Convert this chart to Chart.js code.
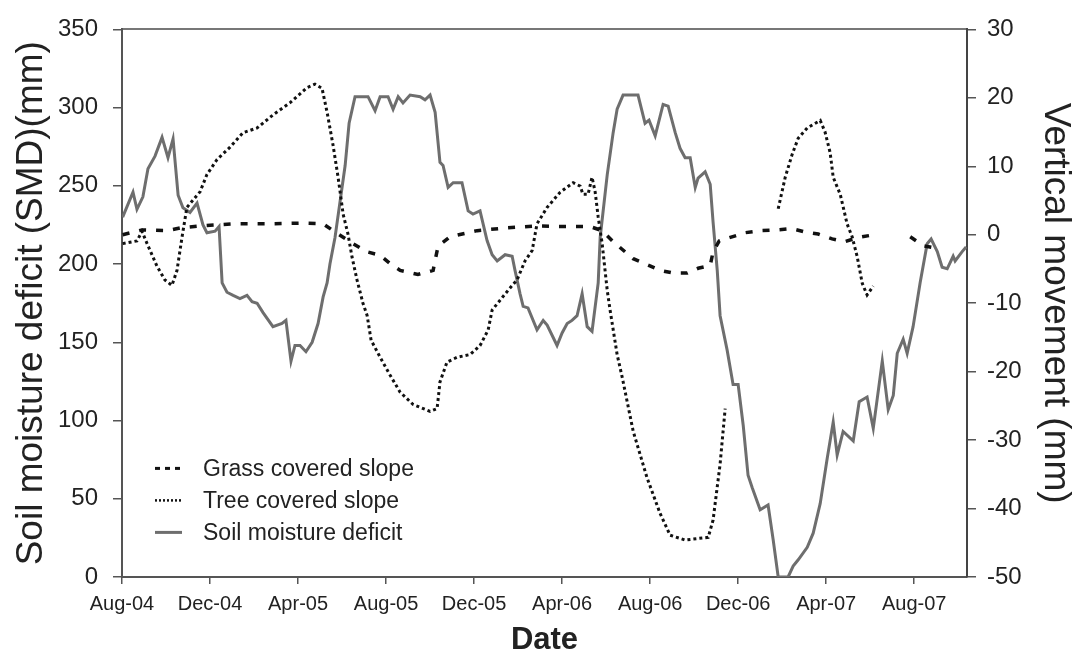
<!DOCTYPE html>
<html lang="en">
  <head>
    <meta charset="UTF-8" />
    <title>Soil moisture deficit and vertical movement</title>
    <script src="https://cdn.jsdelivr.net/npm/chart.js"></script>
    <style>
      html, body { margin: 0; padding: 0; background: #fff; }
    </style>
  </head>
  <body>
    <canvas id="lineChart" width="1074" height="657"></canvas>
    <script>
      // x values are months counted from Aug-04
      const tickLabels = ["Aug-04", "Dec-04", "Apr-05", "Aug-05", "Dec-05",
        "Apr-06", "Aug-06", "Dec-06", "Apr-07", "Aug-07"];

      const smdMonths = [0.03, 0.5, 0.68, 0.95, 1.18, 1.5, 1.82, 2.09, 2.32, 2.55, 2.77, 3.09, 3.41, 3.68, 3.86,
        4.23, 4.41, 4.55, 4.77, 5.05, 5.36, 5.68, 5.91, 6.14, 6.41, 6.86, 7.27, 7.45, 7.68, 7.86, 8.09, 8.36,
        8.64, 8.91, 9.14, 9.32, 9.45, 9.68, 9.91, 10.14, 10.32, 10.59, 11.18, 11.5, 11.73, 12.09, 12.32, 12.55,
        12.77, 13.09, 13.55, 13.77, 14.0, 14.23, 14.45, 14.59, 14.82, 15.05, 15.45, 15.73, 15.95, 16.27, 16.59,
        16.82, 17.05, 17.41, 17.73, 17.86, 18.09, 18.23, 18.45, 18.86, 19.14, 19.32, 19.77, 20.0, 20.23, 20.45,
        20.68, 20.91, 21.14, 21.36, 21.64, 21.73, 22.05, 22.32, 22.5, 22.77, 23.45, 23.77, 23.95, 24.23, 24.59,
        24.82, 25.14, 25.36, 25.59, 25.82, 26.05, 26.18, 26.5, 26.73, 26.86, 27.05, 27.18, 27.5, 27.77, 28.0,
        28.23, 28.45, 28.64, 29.0, 29.36, 29.59, 29.82, 30.27, 30.5, 30.73, 31.14, 31.41, 31.73, 32.05, 32.32,
        32.5, 32.77, 33.23, 33.5, 33.86, 34.14, 34.55, 34.82, 35.05, 35.23, 35.5, 35.68, 35.95, 36.27, 36.59,
        36.77, 37.05, 37.27, 37.5, 37.77, 37.86, 38.18, 38.36];
      const smdValues = [230, 246, 235, 243, 261, 269, 281, 268, 280, 244, 236, 233, 239, 225, 220,
        221, 224, 188, 182, 180, 178, 180, 176, 175, 169, 160, 162, 164, 138, 148, 148, 144,
        150, 162, 179, 188, 200, 217, 240, 263, 290, 307, 307, 298, 307, 307, 299, 307,
        303, 308, 307, 305, 308, 297, 265, 263, 249, 252, 252, 234, 232, 234, 215,
        206, 202, 206, 205, 196, 181, 173, 172, 158, 164, 161, 148, 156, 162, 164,
        167, 181, 160, 157, 188, 217, 257, 284, 299, 308, 308, 290, 292, 282, 302,
        301, 284, 274, 268, 268, 249, 255, 259, 251, 227, 196, 167, 145, 123, 123,
        97, 65, 57, 43, 46, 24, 0, 0, 7, 11, 19, 28, 47, 76, 99,
        78, 93, 87, 112, 115, 95, 138, 107, 116, 143, 152, 143, 160, 188, 213,
        216, 208, 198, 197, 205, 202, 208, 211];

      const grassMonths = [0.03, 0.91, 2.05, 2.64, 3.55, 5.05, 6.59, 8.09, 9.14, 9.59, 10.5, 11.14, 11.73,
        12.18, 12.64, 13.45, 14.14, 14.36, 14.9, 16.14, 17.5, 18.86, 20.05, 21.27, 21.82, 22.32, 23.23, 24.45,
        25.05, 25.68, 26.18, 26.73, 26.86, 27.14, 28.32, 29.0, 29.77, 30.45, 31.05, 31.64, 32.27, 32.86, 33.45,
        34.0, 35.0, 35.82, 36.41, 37.05];
      const grassValues = [0, 0.7, 0.6, 1, 1.3, 1.6, 1.6, 1.7, 1.6, 0.6, -1.3, -2.5, -3,
        -4.2, -5.2, -5.8, -5.2, -1.7, -0.3, 0.6, 1, 1.3, 1.2, 1.2, 0.6, -1, -3.5, -5.2,
        -5.6, -5.6, -4.9, -4.5, -2.5, -0.9, 0.3, 0.6, 0.7, 0.9, 0.4, 0.1, -0.6, -1, -0.4,
        -0.1, null, -0.3, -1.6, -2];

      const treeMonths = [0.03, 0.68, 0.91, 1.14, 1.59, 1.95, 2.27, 2.5, 2.73, 2.95, 3.55, 3.86, 4.32, 4.91,
        5.5, 6.14, 6.86, 7.64, 8.41, 8.77, 9.09, 9.32, 9.59, 9.82, 9.91, 10.05, 10.27, 10.45, 10.68, 10.95,
        11.14, 11.32, 11.73, 12.18, 12.64, 13.23, 14.0, 14.32, 14.45, 14.77, 15.23, 15.82, 16.27, 16.64, 16.82,
        17.55, 17.95, 18.32, 18.64, 18.86, 19.32, 19.91, 20.5, 20.82, 20.95, 21.18, 21.36, 21.5, 21.64, 21.82,
        22.05, 22.18, 22.5, 22.73, 23.23, 23.86, 24.45, 24.91, 25.59, 26.64, 26.86, 27.18, 27.41, 28.5,
        29.82, 30.14, 30.45, 30.73, 31.14, 31.73, 31.95, 32.18, 32.32, 32.64, 32.95, 33.18, 33.41, 33.64,
        33.86, 34.14];
      const treeValues = [-1.3, -0.9, 0.5, -1.3, -4.6, -6.6, -7.4, -5.2, -0.3, 4, 6.3, 8.8, 11, 12.8,
        14.9, 15.6, 17.5, 19.3, 21.5, 22, 21.4, 17.9, 13.1, 8.4, 6.3, 3, 0.1, -3.2, -6.6, -10,
        -11.8, -15.4, -17.9, -20.5, -23, -24.8, -25.8, -25.4, -21.5, -18.6, -17.9, -17.5, -16.2, -13.9, -11,
        -8.1, -6.6, -3.8, -2.3, 1.6, 4, 6.2, 7.6, 7.1, 5.9, 5.9, 8.4, 6.3, 2.6, -1.3,
        -8.1, -11, -17.5, -20.8, -28.7, -35.5, -40.7, -43.9, -44.6, -44.2, -41.7, -33.5, -25.4, null,
        3.8, 8.4, 11.7, 14.1, 15.6, 16.7, 15, 12, 8.4, 5.9, 1.6, -0.3, -3.2, -7.1,
        -8.8, -7.5];

      const toPoints = (xs, ys) => xs.map((x, i) => ({ x: x, y: ys[i] }));

      const FONT = "'Liberation Sans', Arial, sans-serif";
      const AXIS = "#555";

      // legend drawn inside the plot, lower left
      const insideLegend = {
        id: "insideLegend",
        afterDraw(chart) {
          const ctx = chart.ctx;
          const area = chart.chartArea;
          const x0 = area.left + 33;
          const rows = [
            { ds: 0, dash: [5, 5], width: 3, color: "#111" },
            { ds: 1, dash: [2, 2], width: 2.5, color: "#111" },
            { ds: 2, dash: [], width: 3, color: "#6e6e6e" },
          ];
          ctx.save();
          ctx.font = "23px " + FONT;
          ctx.textBaseline = "middle";
          ctx.fillStyle = "#222";
          rows.forEach((r, i) => {
            const y = area.top + 439 + i * 32;
            ctx.beginPath();
            ctx.setLineDash(r.dash);
            ctx.lineWidth = r.width;
            ctx.strokeStyle = r.color;
            ctx.moveTo(x0, y);
            ctx.lineTo(x0 + 27, y);
            ctx.stroke();
            ctx.fillText(chart.data.datasets[r.ds].label, x0 + 48, y + 1);
          });
          ctx.restore();
        },
      };

      new Chart(document.getElementById("lineChart"), {
        type: "line",
        data: {
          datasets: [
            {
              label: "Grass covered slope",
              data: toPoints(grassMonths, grassValues),
              yAxisID: "y1",
              borderColor: "#111",
              borderWidth: 3.5,
              borderDash: [7, 10],
            },
            {
              label: "Tree covered slope",
              data: toPoints(treeMonths, treeValues),
              yAxisID: "y1",
              borderColor: "#111",
              borderWidth: 3,
              borderDash: [3, 3],
            },
            {
              label: "Soil moisture deficit",
              data: toPoints(smdMonths, smdValues),
              yAxisID: "y",
              borderColor: "#6e6e6e",
              borderWidth: 3,
            },
          ],
        },
        options: {
          responsive: false,
          animation: false,
          spanGaps: false,
          elements: { point: { radius: 0 }, line: { tension: 0 } },
          layout: { padding: { top: 23, left: 0, right: 0, bottom: 0 } },
          plugins: { legend: { display: false }, tooltip: { enabled: false } },
          scales: {
            x: {
              type: "linear",
              position: "bottom",
              min: 0,
              max: 38.4,
              afterFit: (s) => { s.height = 80; },
              afterBuildTicks: (s) => {
                s.ticks = tickLabels.map((_, i) => ({ value: i * 4 }));
              },
              ticks: {
                callback: (v) => tickLabels[v / 4],
                font: { family: FONT, size: 20 },
                color: "#222",
                padding: 8,
                maxRotation: 0,
                autoSkip: false,
              },
              grid: { drawOnChartArea: false, tickLength: 7, color: AXIS, lineWidth: 1.5 },
              border: { color: AXIS, width: 2 },
              title: {
                display: true,
                text: "Date",
                font: { family: FONT, size: 31, weight: "bold", lineHeight: 1 },
                color: "#222",
                padding: { top: 0, bottom: 1 },
              },
            },
            xTop: {
              type: "linear",
              position: "top",
              min: 0,
              max: 38.4,
              afterFit: (s) => { s.height = 0; },
              ticks: { display: false },
              grid: { display: false },
              border: { color: "#777", width: 2 },
            },
            y: {
              position: "left",
              min: 0,
              max: 350,
              afterFit: (s) => { s.width = 122; },
              ticks: { stepSize: 50, font: { family: FONT, size: 24 }, color: "#222", padding: 15 },
              grid: { drawOnChartArea: false, tickLength: 9, color: AXIS, lineWidth: 1.5 },
              border: { color: AXIS, width: 2 },
              title: {
                display: true,
                text: "Soil moisture deficit (SMD)(mm)",
                font: { family: FONT, size: 37, lineHeight: 1 },
                color: "#222",
                padding: { top: 13, bottom: 0 },
              },
            },
            y1: {
              position: "right",
              min: -50,
              max: 30,
              afterFit: (s) => { s.width = 107; },
              ticks: { stepSize: 10, font: { family: FONT, size: 24 }, color: "#222", padding: 11 },
              grid: { drawOnChartArea: false, tickLength: 9, color: AXIS, lineWidth: 1.5 },
              border: { color: "#444", width: 2 },
              title: {
                display: true,
                text: "Vertical movement (mm)",
                font: { family: FONT, size: 37, lineHeight: 1 },
                color: "#222",
                padding: { top: 0, bottom: 0 },
              },
            },
          },
        },
        plugins: [insideLegend],
      });
    </script>
  </body>
</html>
